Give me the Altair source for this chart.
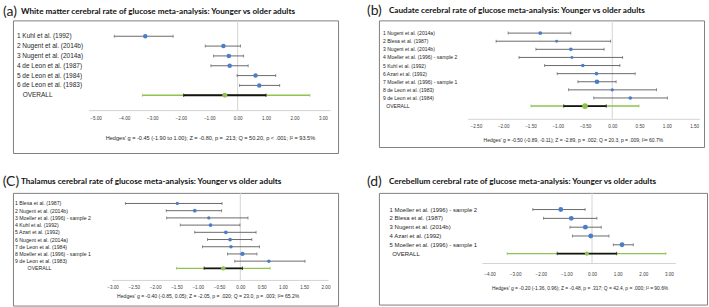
import altair as alt
import pandas as pd

# ---------------- data ----------------
A_TAG = "(a)"
A_TITLE = "White matter cerebral rate of glucose meta-analysis: Younger vs older adults"
A_STUDIES = ["1 Kuhl et al. (1992)", "2 Nugent et al. (2014b)", "3 Nugent et al. (2014a)",
             "4 de Leon et al. (1987)", "5 de Leon et al. (1984)", "6 de Leon et al. (1983)"]
A_G = [-3.25, -0.50, -0.31, -0.28, 0.63, 0.76]
A_LO = [-4.34, -1.14, -0.85, -0.94, -0.02, 0.07]
A_HI = [-2.27, 0.10, 0.21, 0.37, 1.34, 1.48]
A_WEIGHT = [16.7, 16.7, 16.7, 16.7, 16.7, 16.7]
A_OVERALL = [-0.45, -1.90, 1.00, -3.35, 2.54]   # g, CI low, CI high, PI low, PI high
A_TICKS = [-5, -4, -3, -2, -1, 0, 1, 2, 3]
A_NOTE = "Hedges' g = -0.45 (-1.90 to 1.00); Z = -0.80, p = .213; Q = 50.20, p < .001; I\u00b2 = 93.5%"

B_TAG = "(b)"
B_TITLE = "Caudate cerebral rate of glucose meta-analysis: Younger vs older adults"
B_STUDIES = ["1 Nugent et al. (2014a)", "2 Blesa et al. (1987)", "3 Nugent et al. (2014b)",
             "4 Moeller et al. (1996) - sample 2", "5 Kuhl et al. (1992)", "6 Azari et al. (1992)",
             "7 Moeller et al. (1996) - sample 1", "8 de Leon et al. (1983)", "9 de Leon et al. (1984)"]
B_G = [-1.32, -1.02, -0.76, -0.74, -0.54, -0.29, -0.28, 0.00, 0.33]
B_LO = [-1.91, -2.13, -1.40, -1.71, -1.24, -1.01, -0.63, -0.80, -0.34]
B_HI = [-0.76, -0.03, -0.15, 0.19, 0.14, 0.42, 0.07, 0.81, 1.01]
B_WEIGHT = [12.6, 7.2, 11.2, 7.2, 11.2, 11.2, 18.9, 9.2, 11.2]
B_OVERALL = [-0.50, -0.89, -0.11, -1.49, 0.49]
B_TICKS = [-2.5, -2.0, -1.5, -1.0, -0.5, 0.0, 0.5, 1.0, 1.5]
B_NOTE = "Hedges' g = -0.50 (-0.89, -0.11); Z = -2.89, p = .002; Q = 20.3, p = .009; I\u00b2= 60.7%"

C_TAG = "(C)"
C_TITLE = "Thalamus cerebral rate of glucose meta-analysis: Younger vs older adults"
C_STUDIES = ["1 Blesa et al. (1987)", "2 Nugent et al. (2014b)", "3 Moeller et al. (1996) - sample 2",
             "4 Kuhl et al. (1992)", "5 Azari et al. (1992)", "6 Nugent et al. (2014a)",
             "7 de Leon et al. (1984)", "8 Moeller et al. (1996) - sample 1", "9 de Leon et al. (1983)"]
C_G = [-1.48, -1.07, -0.74, -0.70, -0.34, -0.24, -0.22, 0.05, 0.67]
C_LO = [-2.70, -1.74, -1.73, -1.41, -1.07, -0.77, -0.89, -0.30, -0.13]
C_HI = [-0.43, -0.44, 0.18, -0.01, 0.37, 0.27, 0.45, 0.39, 1.52]
C_WEIGHT = [8.7, 11.7, 8.7, 11.7, 11.7, 11.7, 10.1, 15.8, 10.1]
C_OVERALL = [-0.40, -0.85, 0.05, -1.50, 0.70]
C_TICKS = [-3.0, -2.5, -2.0, -1.5, -1.0, -0.5, 0.0, 0.5, 1.0, 1.5, 2.0]
C_NOTE = "Hedges' g = -0.40 (-0.85, 0.05); Z = -2.05, p = .020; Q = 23.0, p = .003; I\u00b2= 65.2%"

D_TAG = "(d)"
D_TITLE = "Cerebellum cerebral rate of glucose meta-analysis: Younger vs older adults"
D_STUDIES = ["1 Moeller et al. (1996) - sample 2", "2 Blesa et al. (1987)", "3 Nugent et al. (2014b)",
             "4 Azari et al. (1992)", "5 Moeller et al. (1996) - sample 1"]
D_G = [-1.22, -0.81, -0.26, -0.05, 1.17]
D_LO = [-2.31, -1.89, -0.86, -0.76, 0.83]
D_HI = [-0.27, 0.19, 0.36, 0.66, 1.61]
D_WEIGHT = [20.0, 20.0, 20.0, 20.0, 20.0]
D_OVERALL = [-0.20, -1.36, 0.96, -3.31, 2.88]
D_TICKS = [-4, -3, -2, -1, 0, 1, 2, 3]
D_NOTE = "Hedges' g = -0.20 (-1.36, 0.96); Z = -0.48, p = .317; Q = 42.4, p = .000; I\u00b2 = 90.6%"

# ---------------- styling ----------------
BLUE = "#4A7EC8"
GREEN = "#90C24F"
GREY = "#5A5A5A"
BLACK = "#141414"
TXT = "#262626"
SANS = "Liberation Sans"
TFONT = "Lato"


def panel(tag, title, studies, g, lo, hi, weight, overall, ticks, note, L):
    dom = L["dom"]
    rng = [L["zero"] + dom[0] * L["ppu"], L["zero"] + dom[1] * L["ppu"]]
    xs = alt.Scale(domain=dom, range=rng, nice=False, zero=False)
    rows = studies + ["OVERALL"]
    ys = alt.Scale(domain=rows, range=[L["y0"], L["y1"]], padding=0)
    ax = alt.Axis(values=ticks, format=".2f", title=None, orient="bottom", offset=L["axoff"],
                  ticks=False, grid=False, domainColor="#D4D4D4", domainWidth=1,
                  labelFont=SANS, labelFontSize=4.6, labelColor="#404040",
                  labelPadding=L["lpad"], labelFlush=False, labelOverlap=False)

    def X(f):
        return alt.X(f, type="quantitative", scale=xs, axis=ax)

    def Y(f):
        return alt.Y(f, type="nominal", scale=ys, axis=None)

    df = pd.DataFrame({"label": studies, "g": g, "lo": lo, "hi": hi, "w": weight})
    ov = pd.DataFrame({"label": ["OVERALL"], "g": [overall[0]], "lo": [overall[1]],
                       "hi": [overall[2]], "plo": [overall[3]], "phi": [overall[4]]})
    base = alt.Chart(df)
    ovc = alt.Chart(ov)

    zero = alt.Chart(pd.DataFrame({"z": [0.0]})).mark_rule(color="#D4D4D4", strokeWidth=1).encode(
        x=X("z"), y=alt.value(0), y2=alt.value(L["axy"]))

    err = base.mark_rule(color=GREY, strokeWidth=0.9).encode(x=X("lo"), x2="hi", y=Y("label"))
    cap_lo = base.mark_tick(color=GREY, thickness=0.9, size=3).encode(x=X("lo"), y=Y("label"))
    cap_hi = base.mark_tick(color=GREY, thickness=0.9, size=3).encode(x=X("hi"), y=Y("label"))

    pi = ovc.mark_rule(color=GREEN, strokeWidth=1.4).encode(x=X("plo"), x2="phi", y=Y("label"))
    pi_lo = ovc.mark_tick(color=GREEN, thickness=1, size=3).encode(x=X("plo"), y=Y("label"))
    pi_hi = ovc.mark_tick(color=GREEN, thickness=1, size=3).encode(x=X("phi"), y=Y("label"))
    ci = ovc.mark_rule(color=BLACK, strokeWidth=1.8).encode(x=X("lo"), x2="hi", y=Y("label"))
    ci_lo = ovc.mark_tick(color=BLACK, thickness=1, size=3.5).encode(x=X("lo"), y=Y("label"))
    ci_hi = ovc.mark_tick(color=BLACK, thickness=1, size=3.5).encode(x=X("hi"), y=Y("label"))
    ov_pt = ovc.mark_circle(color=GREEN, opacity=1, size=L["osize"]).encode(x=X("g"), y=Y("label"))

    pts = base.mark_circle(color=BLUE, opacity=1).encode(
        x=X("g"), y=Y("label"),
        size=alt.Size("w:Q", scale=alt.Scale(domain=[0, 20], range=[0, L["amax"]]), legend=None))

    labels = base.mark_text(align="left", baseline="middle", font=SANS, fontSize=L["fs"], color=TXT).encode(
        x=alt.value(L["lx"]), y=Y("label"), text="label:N")
    ov_label = ovc.mark_text(align="left", baseline="middle", font=SANS, fontSize=L["fs"], color=TXT).encode(
        x=alt.value(L["ox"]), y=Y("label"), text="label:N")

    tag_t = alt.Chart(pd.DataFrame({"t": [tag]})).mark_text(
        align="left", baseline="middle", font=TFONT, fontSize=14, color="#222222").encode(
        x=alt.value(L["tagx"]), y=alt.value(L["ty"]), text="t:N")
    title_t = alt.Chart(pd.DataFrame({"t": [title]})).mark_text(
        align="left", baseline="middle", font=TFONT, fontWeight="bold", fontSize=L["tfs"], color="#111111").encode(
        x=alt.value(L["tx"]), y=alt.value(L["ty"]), text="t:N")
    note_t = alt.Chart(pd.DataFrame({"t": [note]})).mark_text(
        align="center", baseline="middle", font=SANS, fontSize=L["nfs"], color=TXT).encode(
        x=alt.value(L["nx"]), y=alt.value(L["ny"]), text="t:N")

    return alt.layer(zero, err, cap_lo, cap_hi, pi, pi_lo, pi_hi, ci, ci_lo, ci_hi, ov_pt, pts,
                     labels, ov_label, tag_t, title_t, note_t).properties(width=L["w"], height=L["h"])


LA = dict(w=326, h=133, zero=225.3, ppu=28.5, dom=[-5.25, 3.25], y0=11, y1=80, axy=90, axoff=-43,
          lpad=5.5, lx=4, ox=9.7, fs=6.5, nfs=5.6, nx=198, ny=118, tagx=-10, tx=8, ty=-8, tfs=8.2,
          amax=24, osize=24)
LB = dict(w=326, h=127, zero=234, ppu=54.7, dom=[-2.65, 1.6], y0=8.7, y1=90, axy=98.7, axoff=-28.3,
          lpad=5, lx=4, ox=7.3, fs=5.1, nfs=5.0, nx=195, ny=120, tagx=-12, tx=10, ty=-9, tfs=8.2,
          amax=35, osize=33)
LC = dict(w=326, h=113, zero=228, ppu=42.7, dom=[-3.02, 2.06], y0=7, y1=79.3, axy=87.3, axoff=-25.7,
          lpad=4.4, lx=2, ox=14.7, fs=5.2, nfs=5.1, nx=195.8, ny=103.7, tagx=-10.3, tx=8, ty=-10.7, tfs=8.2,
          amax=24.8, osize=19)
LD = dict(w=329, h=112, zero=213.7, ppu=25.7, dom=[-4.3, 3.25], y0=12.3, y1=65.3, axy=70.3, axoff=-41.7,
          lpad=8.4, lx=10.7, ox=13.3, fs=6.0, nfs=4.9, nx=201.7, ny=96.3, tagx=-12, tx=10, ty=-10.7, tfs=8.2,
          amax=14, osize=17)

pa = panel(A_TAG, A_TITLE, A_STUDIES, A_G, A_LO, A_HI, A_WEIGHT, A_OVERALL, A_TICKS, A_NOTE, LA)
pb = panel(B_TAG, B_TITLE, B_STUDIES, B_G, B_LO, B_HI, B_WEIGHT, B_OVERALL, B_TICKS, B_NOTE, LB)
pc = panel(C_TAG, C_TITLE, C_STUDIES, C_G, C_LO, C_HI, C_WEIGHT, C_OVERALL, C_TICKS, C_NOTE, LC)
pd_ = panel(D_TAG, D_TITLE, D_STUDIES, D_G, D_LO, D_HI, D_WEIGHT, D_OVERALL, D_TICKS, D_NOTE, LD)

chart = alt.concat(pa, pb, pc, pd_, columns=2, spacing={"row": 40, "column": 41}, bounds="flush").properties(
    padding={"left": 2, "top": 3, "right": 1, "bottom": 2},
    background="white",
).configure_view(stroke="#7F7F7F", strokeWidth=1)

chart.save("out.html", embed_options={"renderer": "svg", "actions": False})
